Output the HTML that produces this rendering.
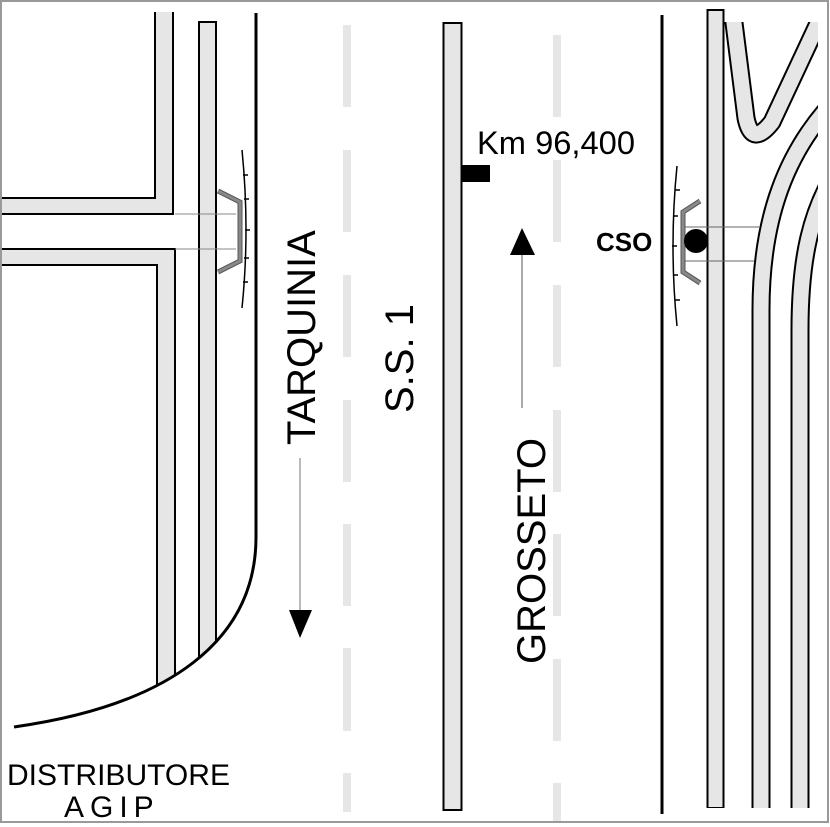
<!DOCTYPE html>
<html><head><meta charset="utf-8"><style>
html,body{margin:0;padding:0;background:#fff}
svg{display:block}
text{font-family:"Liberation Sans",Arial,sans-serif}
</style></head><body>
<svg width="830" height="827" viewBox="0 0 830 827" xmlns="http://www.w3.org/2000/svg">
<defs>
<clipPath id="rc"><rect x="700" y="22" width="118" height="790"/></clipPath>
</defs>
<rect x="0" y="0" width="830" height="827" fill="#fff"/>

<!-- dashes -->
<g fill="#e6e6e6">
<rect x="343" y="25" width="8" height="82"/><rect x="343" y="150" width="8" height="82"/>
<rect x="343" y="275" width="8" height="82"/><rect x="343" y="400" width="8" height="82"/>
<rect x="343" y="524" width="8" height="82"/><rect x="343" y="648" width="8" height="83"/>
<rect x="343" y="773" width="8" height="39"/>
<rect x="553" y="35" width="8" height="82"/><rect x="553" y="160" width="8" height="82"/>
<rect x="553" y="285" width="8" height="82"/><rect x="553" y="410" width="8" height="82"/>
<rect x="553" y="534" width="8" height="82"/><rect x="553" y="659" width="8" height="82"/>
<rect x="553" y="783" width="8" height="39"/>
</g>

<!-- center strip -->
<rect x="443.5" y="23" width="18" height="787" fill="#e6e6e6" stroke="#000" stroke-width="2"/>
<rect x="462" y="165" width="28" height="17" fill="#000"/>
<text x="477" y="154" font-size="32" textLength="158" lengthAdjust="spacingAndGlyphs">Km 96,400</text>

<!-- left strips -->
<g fill="#e6e6e6" stroke="#000" stroke-width="2">
<path d="M155,12 V198 H-5 V214 H173 V12"/>
<path d="M-5,249 H175 V700 H157 V265 H-5"/>
<rect x="199" y="22" width="17" height="680"/>
</g>
<line x1="175" y1="214" x2="236" y2="214" stroke="#888" stroke-width="1"/>
<line x1="175" y1="249" x2="236" y2="249" stroke="#888" stroke-width="1"/>
<rect x="176" y="215" width="22" height="33" fill="#fff"/>
<line x1="175" y1="214" x2="199" y2="214" stroke="#888" stroke-width="1"/>
<line x1="175" y1="249" x2="199" y2="249" stroke="#888" stroke-width="1"/>
<!-- white below curve -->
<path d="M256,537 C256,640 170,705 14,727 L0,727 L0,760 L262,760 Z" fill="#fff"/>
<path d="M256,13 V537 C256,640 170,705 14,727" fill="none" stroke="#000" stroke-width="3"/>

<!-- left barrier -->
<path d="M218,191 L240,202 V261 L218,272" fill="none" stroke="#555" stroke-width="5" stroke-linejoin="miter"/>
<path d="M218,191 L240,202 V261 L218,272" fill="none" stroke="#888" stroke-width="3"/>
<path d="M242,150 Q250,230 242,308" fill="none" stroke="#000" stroke-width="1.5"/>
<g stroke="#000" stroke-width="1.5">
<line x1="243" y1="175" x2="248" y2="175"/><line x1="244" y1="199" x2="249" y2="199"/>
<line x1="245" y1="230" x2="250" y2="230"/><line x1="244" y1="258" x2="249" y2="258"/>
<line x1="243" y1="282" x2="248" y2="282"/>
</g>

<!-- arrows -->
<line x1="300" y1="458" x2="300" y2="612" stroke="#777" stroke-width="1"/>
<path d="M289,610 L312,610 L300,638 Z" fill="#000"/>
<line x1="522" y1="252" x2="522" y2="408" stroke="#555" stroke-width="1"/>
<path d="M510,255 L535,255 L522,228 Z" fill="#000"/>

<!-- rotated labels -->
<text transform="translate(315,445) rotate(-90)" font-size="40">TARQUINIA</text>
<text transform="translate(413,413) rotate(-90)" font-size="40">S.S. 1</text>
<text transform="translate(545,664) rotate(-90)" font-size="40">GROSSETO</text>

<!-- right side -->
<line x1="662" y1="15" x2="662" y2="814" stroke="#000" stroke-width="3"/>
<rect x="707.5" y="10" width="16" height="798" fill="#e6e6e6" stroke="#000" stroke-width="2"/>
<g clip-path="url(#rc)" fill="none">
<path d="M733,15 L746,118 Q752,148 772,122 L822,15" stroke="#000" stroke-width="19" stroke-linejoin="round"/>
<path d="M733,15 L746,118 Q752,148 772,122 L822,15" stroke="#e6e6e6" stroke-width="15" stroke-linejoin="round"/>
<path d="M761,820 V310 C761,220 785,150 840,95" stroke="#000" stroke-width="19"/>
<path d="M761,820 V310 C761,220 785,150 840,95" stroke="#e6e6e6" stroke-width="15"/>
<path d="M800,820 V330 C800,260 810,210 840,165" stroke="#000" stroke-width="19"/>
<path d="M800,820 V330 C800,260 810,210 840,165" stroke="#e6e6e6" stroke-width="15"/>
</g>
<rect x="700" y="808" width="120" height="13" fill="#fff"/>
<rect x="818" y="20" width="9" height="790" fill="#fff"/>
<line x1="683" y1="227" x2="760" y2="227" stroke="#666" stroke-width="1"/>
<line x1="683" y1="261" x2="754" y2="261" stroke="#666" stroke-width="1"/>
<rect x="725" y="228" width="28" height="32" fill="#fff"/>
<line x1="725" y1="227" x2="760" y2="227" stroke="#666" stroke-width="1"/>
<line x1="725" y1="261" x2="754" y2="261" stroke="#666" stroke-width="1"/>
<path d="M700,201 L683,212 V272 L700,283" fill="none" stroke="#555" stroke-width="5"/>
<path d="M700,201 L683,212 V272 L700,283" fill="none" stroke="#888" stroke-width="3"/>
<circle cx="696" cy="241" r="12" fill="#000"/>
<path d="M677,166 Q669,246 677,326" fill="none" stroke="#000" stroke-width="1.5"/>
<g stroke="#000" stroke-width="1.5">
<line x1="675" y1="190" x2="680" y2="190"/><line x1="673" y1="216" x2="678" y2="216"/>
<line x1="672" y1="246" x2="677" y2="246"/><line x1="673" y1="275" x2="678" y2="275"/>
<line x1="675" y1="300" x2="680" y2="300"/>
</g>
<text x="596" y="251" font-size="26" font-weight="bold">CSO</text>

<!-- bottom left labels -->
<text x="7" y="785" font-size="30" textLength="223" lengthAdjust="spacingAndGlyphs">DISTRIBUTORE</text>
<text x="64" y="817" font-size="30" letter-spacing="6">AGIP</text>

<rect x="1" y="1" width="827" height="821" fill="none" stroke="#999" stroke-width="2"/>
</svg>
</body></html>
